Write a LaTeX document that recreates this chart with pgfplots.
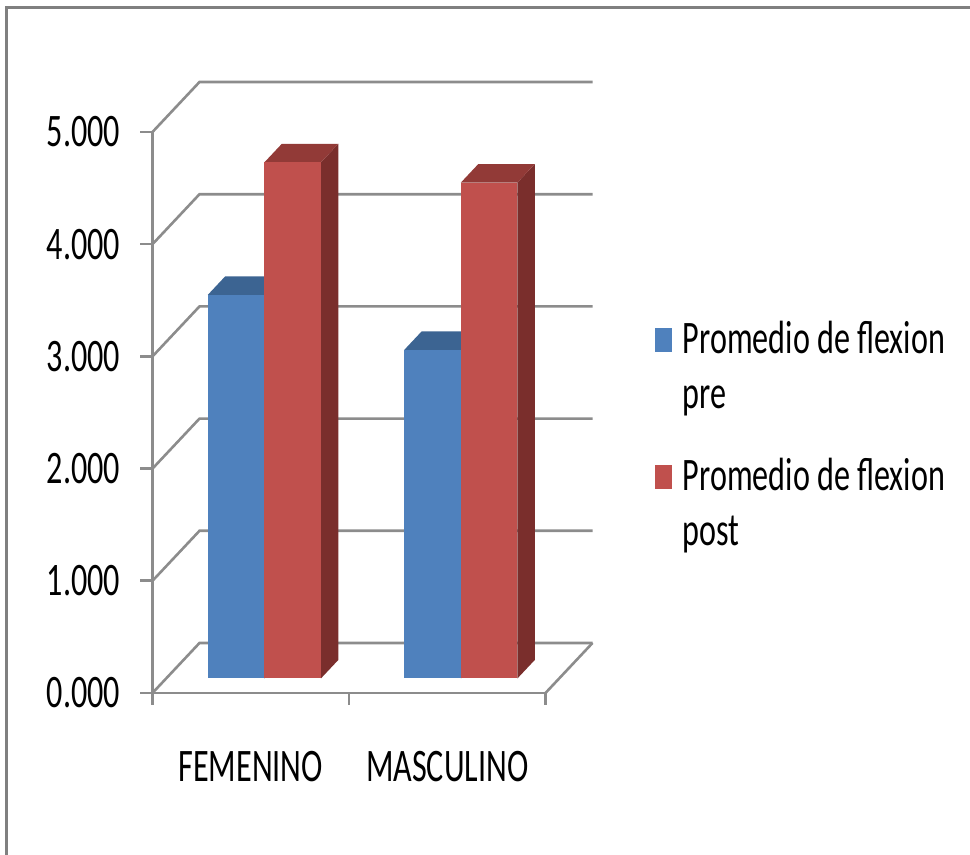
\documentclass[border=0pt]{standalone}
\usepackage{pgfplots}
\pgfplotsset{compat=1.18}
\usepackage{pgfplotstable}
\usepackage{fontspec}
\setmainfont{Carlito}[FakeStretch=0.69]

\definecolor{preFront}{RGB}{79,129,189}
\definecolor{preTop}{RGB}{60,100,146}
\definecolor{preSide}{RGB}{52,86,126}
\definecolor{postFront}{RGB}{192,80,77}
\definecolor{postTop}{RGB}{146,58,55}
\definecolor{postSide}{RGB}{122,46,44}
\definecolor{wallgray}{RGB}{140,140,140}
\definecolor{framegray}{RGB}{128,128,128}

% group averages (0 = FEMENINO, 1 = MASCULINO)
\pgfplotstableread{
grupo pre  post
0     3.42 4.60
1     2.93 4.42
}\flexion

% oblique depth of the walls, in axis units
\def\DX{0.2392}
\def\DY{0.4456}
% depth range occupied by the bars, and bar placement inside a category
\def\dfront{0.29}
\def\dback{0.66}
\def\barL{0.2125}
\def\barW{0.2875}

% one box-shaped column: #1 category, #2 series, #3 value, #4-#6 colours
\newcommand\drawbar[6]{%
  \pgfmathsetmacro\xa{#1+\barL+#2*\barW+\dfront*\DX}%
  \pgfmathsetmacro\xb{\xa+\barW}%
  \pgfmathsetmacro\ya{\dfront*\DY}%
  \pgfmathsetmacro\yb{#3+\dfront*\DY}%
  \pgfmathsetmacro\xc{\xa+(\dback-\dfront)*\DX}%
  \pgfmathsetmacro\xd{\xb+(\dback-\dfront)*\DX}%
  \pgfmathsetmacro\yc{\ya+(\dback-\dfront)*\DY}%
  \pgfmathsetmacro\yd{\yb+(\dback-\dfront)*\DY}%
  \addplot[draw=none, fill=#6, forget plot]
    coordinates {(\xb,\ya) (\xd,\yc) (\xd,\yd) (\xb,\yb)} -- cycle;
  \addplot[draw=none, fill=#5, forget plot]
    coordinates {(\xa,\yb) (\xb,\yb) (\xd,\yd) (\xc,\yd)} -- cycle;
  \addplot[draw=none, fill=#4, forget plot]
    coordinates {(\xa,\ya) (\xb,\ya) (\xb,\yb) (\xa,\yb)} -- cycle;
}

\begin{document}
\fontsize{23.3}{28}\selectfont
\begin{tikzpicture}
\useasboundingbox (-76.25pt,-81pt) rectangle (408.75pt,346.5pt);
% chart area frame
\draw[framegray, line width=1.5pt] (-73pt,-90pt) -- (-73pt,342.5pt) -- (420pt,342.5pt);

\begin{axis}[
  at={(0pt,0pt)}, anchor=south west,
  scale only axis, width=196.5pt, height=280.5pt,
  xmin=0, xmax=2, ymin=0, ymax=5,
  clip=false,
  axis x line=bottom, axis y line=left,
  axis line style={wallgray, line width=1.3pt, -},
  tick style={wallgray, line width=1.3pt},
  tick align=outside,
  major tick length=6pt,
  /pgf/number format/assume math mode=true,
  xtick={0,1,2}, xticklabels={},
  extra x ticks={0.5,1.5},
  extra x tick labels={FEMENINO,MASCULINO},
  extra x tick style={major tick length=0pt,
    xticklabel style={anchor=base, yshift=-44.5pt}},
  ytick={0,1,2,3,4,5},
  yticklabels={0.000,1.000,2.000,3.000,4.000,5.000},
  yticklabel style={anchor=east, inner sep=0pt, xshift=-10pt},
  legend style={at={(1.2786,0.663)}, anchor=north west,
    draw=none, fill=none, inner sep=0pt, outer sep=0pt,
    row sep=21.5pt, column sep=5.5pt,
    nodes={align=left, inner sep=0pt, font=\fontsize{23.3}{27.5}\selectfont}},
  legend cell align=left,
]

% back wall and side wall gridlines
\pgfplotsinvokeforeach{0,1,2,3,4,5}{
  \pgfmathsetmacro\gy{#1+\DY}
  \pgfmathsetmacro\gx{2+\DX}
  \addplot[wallgray, line width=1.3pt, forget plot]
    coordinates {(0,#1) (\DX,\gy) (\gx,\gy)};
}
% right edge of the floor
\pgfmathsetmacro\gx{2+\DX}
\addplot[wallgray, line width=1.3pt, forget plot]
  coordinates {(2,0) (\gx,\DY)};

% columns
\pgfplotsinvokeforeach{0,1}{
  \pgfplotstablegetelem{#1}{pre}\of\flexion
  \let\vpre\pgfplotsretval
  \pgfplotstablegetelem{#1}{post}\of\flexion
  \let\vpost\pgfplotsretval
  \drawbar{#1}{0}{\vpre}{preFront}{preTop}{preSide}
  \drawbar{#1}{1}{\vpost}{postFront}{postTop}{postSide}
}

\addlegendimage{legend image code/.code={\fill[preFront] (0pt,8.5pt) rectangle (8pt,20pt);}}
\addlegendentry{Promedio de flexion\\pre}
\addlegendimage{legend image code/.code={\fill[postFront] (0pt,8.5pt) rectangle (8pt,20pt);}}
\addlegendentry{Promedio de flexion\\post}
\end{axis}
\end{tikzpicture}
\end{document}
